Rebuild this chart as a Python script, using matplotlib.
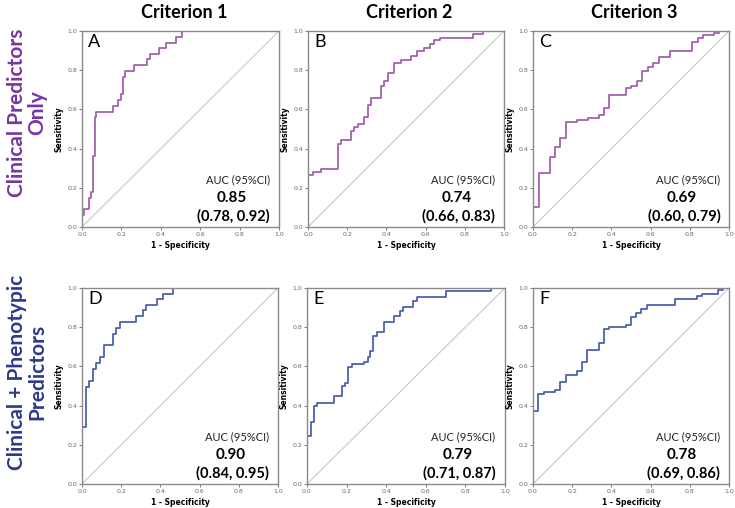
import matplotlib
matplotlib.use('Agg')
import matplotlib.pyplot as plt

# ROC step points: x where the curve rises, y reached at that x
a_fpr = [0, 0.01, 0.036, 0.046, 0.056, 0.066, 0.072, 0.159, 0.184, 0.196, 0.206, 0.217, 0.266, 0.332, 0.345, 0.391, 0.426, 0.475, 0.508]
a_tpr = [0.063, 0.092, 0.149, 0.18, 0.36, 0.56, 0.589, 0.618, 0.648, 0.679, 0.763, 0.794, 0.826, 0.856, 0.885, 0.912, 0.941, 0.971, 1.0]

b_fpr = [0, 0.027, 0.065, 0.152, 0.17, 0.221, 0.234, 0.255, 0.285, 0.306, 0.319, 0.37, 0.39, 0.407, 0.441, 0.472, 0.523, 0.557, 0.594, 0.62, 0.642, 0.676, 0.84, 0.891]
b_tpr = [0.264, 0.281, 0.294, 0.425, 0.445, 0.492, 0.509, 0.526, 0.56, 0.624, 0.656, 0.721, 0.743, 0.788, 0.839, 0.851, 0.873, 0.898, 0.915, 0.932, 0.953, 0.966, 0.986, 1.0]

c_fpr = [0, 0.029, 0.085, 0.11, 0.139, 0.167, 0.224, 0.281, 0.335, 0.361, 0.388, 0.473, 0.502, 0.531, 0.558, 0.587, 0.612, 0.643, 0.697, 0.813, 0.842, 0.867, 0.922, 0.949]
c_tpr = [0.1, 0.276, 0.357, 0.408, 0.453, 0.535, 0.547, 0.557, 0.569, 0.606, 0.673, 0.709, 0.721, 0.746, 0.794, 0.817, 0.839, 0.865, 0.898, 0.944, 0.966, 0.978, 0.988, 1.0]

d_fpr = [0, 0.02, 0.037, 0.058, 0.07, 0.092, 0.114, 0.16, 0.172, 0.194, 0.276, 0.31, 0.327, 0.381, 0.415, 0.463]
d_tpr = [0.29, 0.497, 0.528, 0.588, 0.617, 0.647, 0.707, 0.767, 0.797, 0.826, 0.855, 0.886, 0.915, 0.945, 0.971, 1.0]

e_fpr = [0, 0.019, 0.035, 0.052, 0.138, 0.175, 0.192, 0.205, 0.226, 0.288, 0.306, 0.318, 0.335, 0.355, 0.389, 0.439, 0.47, 0.487, 0.537, 0.554, 0.702, 0.93]
e_tpr = [0.246, 0.315, 0.4, 0.413, 0.45, 0.5, 0.514, 0.595, 0.612, 0.624, 0.646, 0.68, 0.757, 0.774, 0.825, 0.855, 0.884, 0.905, 0.935, 0.952, 0.986, 1.0]

f_fpr = [0, 0.026, 0.054, 0.111, 0.139, 0.167, 0.224, 0.252, 0.277, 0.335, 0.361, 0.388, 0.473, 0.498, 0.524, 0.553, 0.582, 0.723, 0.837, 0.864, 0.944, 0.969]
f_tpr = [0.375, 0.46, 0.468, 0.48, 0.52, 0.554, 0.576, 0.625, 0.685, 0.719, 0.792, 0.8, 0.81, 0.852, 0.872, 0.894, 0.911, 0.945, 0.957, 0.971, 0.991, 1.0]

letters = ['A', 'B', 'C', 'D', 'E', 'F']
auc = ['0.85', '0.74', '0.69', '0.90', '0.79', '0.78']
ci = ['(0.78, 0.92)', '(0.66, 0.83)', '(0.60, 0.79)', '(0.84, 0.95)', '(0.71, 0.87)', '(0.69, 0.86)']
col_titles = ['Criterion 1', 'Criterion 2', 'Criterion 3']
row_titles = ['Clinical Predictors\nOnly', 'Clinical + Phenotypic\nPredictors']

curves = [(a_fpr, a_tpr), (b_fpr, b_tpr), (c_fpr, c_tpr),
          (d_fpr, d_tpr), (e_fpr, e_tpr), (f_fpr, f_tpr)]

W, H = 735, 508
purple = '#A462AE'
blue = '#4C63AD'
row_colors = ['#7536A0', '#2E3A8A']
curve_colors = [purple, blue]

# panel boxes in pixels: left, top, right, bottom
boxes = [(82, 31, 279, 227), (308, 31, 504, 227), (533, 31, 729, 227),
         (82, 288, 278, 484), (307, 288, 505, 484), (533, 288, 729, 484)]

fig = plt.figure(figsize=(W / 100, H / 100), dpi=100)
font = 'Lato'

for i, (fpr, tpr) in enumerate(curves):
    l, t, r, b = boxes[i]
    ax = fig.add_axes([l / W, 1 - b / H, (r - l) / W, (b - t) / H])
    ax.plot([0, 1], [0, 1], color='#C8C8C8', linewidth=0.8)
    ax.step([0] + fpr + [1], [0] + tpr + [1], where='post',
            color=curve_colors[i // 3], linewidth=1.3)
    ax.set_xlim(0, 1)
    ax.set_ylim(0, 1)
    ticks = [0, 0.2, 0.4, 0.6, 0.8, 1.0]
    ax.set_xticks(ticks)
    ax.set_yticks(ticks)
    ax.set_xticklabels([f'{v:.1f}' for v in ticks])
    ax.set_yticklabels([f'{v:.1f}' for v in ticks])
    ax.tick_params(labelsize=4.5, labelcolor='#666666', length=2, width=0.6,
                   color='#666666', pad=1.5)
    for s in ax.spines.values():
        s.set_color('#8A8A8A')
        s.set_linewidth(1.0)
    ax.set_xlabel('1 - Specificity', fontsize=5.5, fontweight='bold', labelpad=3)
    ax.set_ylabel('Sensitivity', fontsize=5.5, fontweight='bold', labelpad=3)
    ax.text(0.03, 0.985, letters[i], transform=ax.transAxes, fontsize=13,
            family=font, ha='left', va='top')
    ax.text(0.79, 0.24, 'AUC (95%CI)', transform=ax.transAxes, fontsize=8,
            family=font, color='#222222', ha='center', va='center')
    ax.text(0.76, 0.15, auc[i], transform=ax.transAxes, fontsize=11,
            family=font, fontweight='bold', ha='center', va='center')
    ax.text(0.77, 0.055, ci[i], transform=ax.transAxes, fontsize=10.5,
            family=font, fontweight='bold', ha='center', va='center')

for j, title in enumerate(col_titles):
    l, t, r, b = boxes[j]
    fig.text((l + r) / 2 / W + 0.005, 1 - 12 / H, title, fontsize=13,
             family=font, fontweight='bold', ha='center', va='center')

for k, label in enumerate(row_titles):
    yc = [113, 372][k]
    fig.text(27 / W, 1 - yc / H, label, fontsize=15, family=font,
             fontweight='bold', color=row_colors[k], rotation=90,
             ha='center', va='center', linespacing=1.05)

plt.savefig('out.png', dpi=100)
